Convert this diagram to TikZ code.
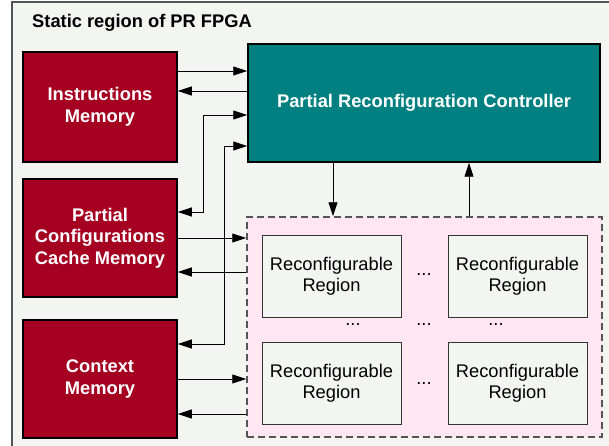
\documentclass[tikz,border=0pt]{standalone}
\usepackage{fontspec}
\setmainfont{Liberation Sans}
\usetikzlibrary{arrows.meta}

\definecolor{bgcol}{RGB}{243,245,240}
\definecolor{memred}{RGB}{165,0,33}
\definecolor{ctrlteal}{RGB}{0,128,128}
\definecolor{rrpink}{RGB}{255,230,240}
\definecolor{framegray}{RGB}{85,85,85}

\begin{document}
\begin{tikzpicture}[x=1pt,y=-1pt,
    bigfont/.style={font=\fontsize{18.3}{21.5}\selectfont},
    mem/.style={bigfont,font=\fontsize{18.3}{21.5}\selectfont\bfseries,draw=black,line width=1.5pt,fill=memred,text=white,align=center,minimum width=154pt,minimum height=118pt,inner sep=0pt},
    rrbox/.style={bigfont,draw=black!80,line width=1pt,fill=bgcol,align=center,minimum width=139pt,minimum height=82pt,inner sep=0pt},
    dots/.style={bigfont,anchor=base,inner sep=0pt},
    link/.style={line width=0.9pt,-{Triangle[length=14pt,width=9pt]}},
    twolink/.style={line width=0.9pt,{Triangle[length=14pt,width=9pt]}-{Triangle[length=14pt,width=9pt]}}]
	\clip (0,0) rectangle (609,446);
	\draw[framegray,line width=2pt,fill=bgcol] (12,2) rectangle (630,470);
	\node[bigfont,font=\fontsize{18.3}{21.5}\selectfont\bfseries,anchor=base west,inner sep=0pt] (title) at (32,27.5) {Static region of PR FPGA};

	\node[framegray,draw,dashed,dash pattern=on 7pt off 4pt,line width=1.5pt,fill=rrpink,minimum width=355pt,minimum height=220pt,inner sep=0pt] (rrs) at (424.5,327) {};

	\node[mem,minimum height=110pt] (im) at (100,107) {Instructions\\Memory};
	\node[mem] (pccm) at (100,238) {Partial\\Configurations\\Cache Memory};
	\node[mem] (cm) at (100,379) {Context\\Memory};
	\node[mem,fill=ctrlteal,minimum width=352pt] (prc) at (424,103) {Partial Reconfiguration Controller};

	\node[rrbox] (rra) at (331.5,276.5) {Reconfigurable\\Region};
	\node[rrbox] (rrb) at (517.5,276.5) {Reconfigurable\\Region};
	\node[rrbox] (rrc) at (331.5,383.5) {Reconfigurable\\Region};
	\node[rrbox] (rrd) at (517.5,383.5) {Reconfigurable\\Region};
	\node[dots] (dab) at (424,275) {...};
	\node[dots] (dcd) at (424,384) {...};
	\node[dots] (dac) at (353,325) {...};
	\node[dots] (dmid) at (424,325) {...};
	\node[dots] (dbd) at (496,325) {...};

	\draw[link] (im.east |- 0,71) -- (prc.west |- 0,71);
	\draw[link] (prc.west |- 0,91) -- (im.east |- 0,91);
	\draw[twolink] (pccm.east |- 0,212) -- (203,212) -- (203,115) -- (prc.west |- 0,115);
	\draw[twolink] (cm.east |- 0,344) -- (224,344) -- (224,146) -- (prc.west |- 0,146);
	\draw[link] (pccm.east |- 0,238) -- (rrs.west |- 0,238);
	\draw[link] (rrs.west |- 0,272) -- (pccm.east |- 0,272);
	\draw[link] (cm.east |- 0,379) -- (rrs.west |- 0,379);
	\draw[link] (rrs.west |- 0,414) -- (cm.east |- 0,414);
	\draw[link] (prc.south -| 333,0) -- (rrs.north -| 333,0);
	\draw[link] (rrs.north -| 469,0) -- (prc.south -| 469,0);
\end{tikzpicture}
\end{document}
